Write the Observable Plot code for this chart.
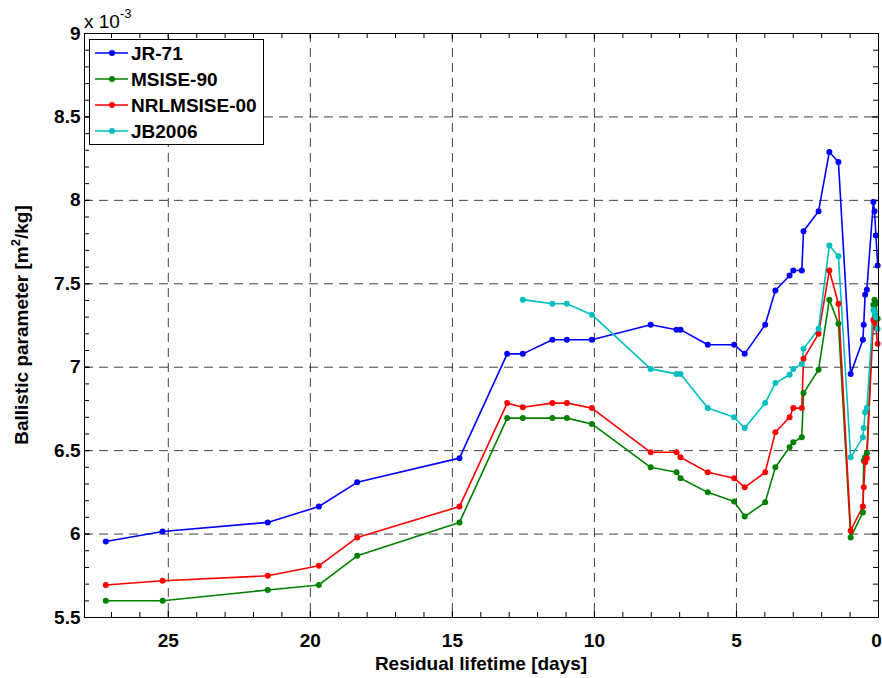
<!DOCTYPE html>
<html><head><meta charset="utf-8">
<script src="https://cdn.jsdelivr.net/npm/d3@7"></script>
<script src="https://cdn.jsdelivr.net/npm/@observablehq/plot@0.6"></script>
<style>
body{margin:0;background:#fff}
#chart svg{font-family:"Liberation Sans",Arial,sans-serif}
</style>
</head><body><div id="chart"></div>
<script>
// Residual lifetime (days) shared by all series
const days = [27.2, 25.2, 21.5, 19.7, 18.35, 14.75, 13.07, 12.52, 11.48, 10.97, 10.09, 8.02, 7.11, 6.97, 6.01, 5.08, 4.71, 3.99, 3.63, 3.13, 3.0, 2.7, 2.64, 2.11, 1.73, 1.41, 0.98, 0.55, 0.52, 0.47, 0.41, 0.18, 0.14, 0.09, 0.03];
// Ballistic parameter (x 1e-3 m^2/kg)
const jr71 = [5.955, 6.015, 6.07, 6.165, 6.31, 6.455, 7.08, 7.08, 7.165, 7.165, 7.165, 7.255, 7.225, 7.225, 7.135, 7.135, 7.08, 7.255, 7.46, 7.55, 7.58, 7.58, 7.815, 7.935, 8.29, 8.23, 6.96, 7.165, 7.255, 7.435, 7.465, 7.99, 7.935, 7.79, 7.61];
const msise90 = [5.6, 5.6, 5.665, 5.695, 5.87, 6.07, 6.695, 6.695, 6.695, 6.695, 6.66, 6.4, 6.37, 6.335, 6.25, 6.195, 6.105, 6.19, 6.4, 6.52, 6.55, 6.58, 6.845, 6.985, 7.405, 7.26, 5.98, 6.13, 6.44, 6.46, 6.485, 7.375, 7.405, 7.38, 7.29];
const nrlmsise00 = [5.695, 5.72, 5.75, 5.81, 5.98, 6.165, 6.785, 6.76, 6.785, 6.785, 6.755, 6.49, 6.49, 6.46, 6.37, 6.335, 6.28, 6.37, 6.61, 6.7, 6.755, 6.755, 7.05, 7.2, 7.58, 7.38, 6.02, 6.165, 6.28, 6.43, 6.455, 7.285, 7.27, 7.235, 7.14];
// JB2006 starts at 12.52 days (index 7 of days)
const jb2006Start = 7;
const jb2006 = [7.405, 7.38, 7.38, 7.315, 6.99, 6.96, 6.96, 6.755, 6.7, 6.635, 6.785, 6.905, 6.955, 6.99, 7.02, 7.11, 7.23, 7.73, 7.665, 6.46, 6.58, 6.635, 6.73, 6.755, 7.345, 7.33, 7.3, 7.23];

const seriesNames = ["JR-71", "MSISE-90", "NRLMSISE-00", "JB2006"];
const seriesColors = ["#0000ff", "#008000", "#ff0000", "#00bfbf"];
const xMajor = [25, 20, 15, 10, 5, 0];
const xGrid = [25, 20, 15, 10, 5];
const xMinor = d3.range(1, 28);
const yMajor = [5.5, 6, 6.5, 7, 7.5, 8, 8.5, 9];
const yGrid = [6, 6.5, 7, 7.5, 8, 8.5];
const yMinor = d3.range(56, 90).map(v => v / 10);
const xLabel = "Residual lifetime [days]";
const yLabelPre = "Ballistic parameter [m", yLabelSup = "2", yLabelPost = "/kg]";

const rows = [];
days.forEach((d, i) => {
  rows.push({series: "JR-71", day: d, value: jr71[i]});
  rows.push({series: "MSISE-90", day: d, value: msise90[i]});
  rows.push({series: "NRLMSISE-00", day: d, value: nrlmsise00[i]});
});
jb2006.forEach((v, i) => rows.push({series: "JB2006", day: days[jb2006Start + i], value: v}));

const W = 882, H = 678, mL = 84, mR = 4, mT = 33, mB = 61;
const iW = W - mL - mR, iH = H - mT - mB;
const TK = 6, TKm = 5;
const txt = {fontSize: 19, fontWeight: "bold", fill: "#000"};

const plot = Plot.plot({
  width: W, height: H,
  marginLeft: mL, marginRight: mR, marginTop: mT, marginBottom: mB,
  x: {domain: [27.95, 0]},
  y: {domain: [5.5, 9]},
  color: {domain: seriesNames, range: seriesColors},
  style: {fontFamily: "Liberation Sans, Arial, sans-serif", background: "#fff"},
  marks: [
    Plot.ruleX(xGrid, {stroke: "#000", strokeOpacity: 0.75, strokeDasharray: "9,6"}),
    Plot.ruleY(yGrid, {stroke: "#000", strokeOpacity: 0.75, strokeDasharray: "9,6"}),
    // inward ticks (bottom/top, left/right)
    Plot.ruleX(xMajor, {insetTop: iH - TK}),
    Plot.ruleX(xMajor, {insetBottom: iH - TK}),
    Plot.ruleX(xMinor, {insetTop: iH - TKm}),
    Plot.ruleX(xMinor, {insetBottom: iH - TKm}),
    Plot.ruleY(yMajor, {insetRight: iW - TK}),
    Plot.ruleY(yMajor, {insetLeft: iW - TK}),
    Plot.ruleY(yMinor, {insetRight: iW - TKm}),
    Plot.ruleY(yMinor, {insetLeft: iW - TKm}),
    Plot.line(rows, {x: "day", y: "value", z: "series", stroke: "series", strokeWidth: 1.6}),
    Plot.dot(rows, {x: "day", y: "value", fill: "series", r: 3}),
    Plot.frame({stroke: "#000"}),
    Plot.axisX(xMajor.filter(d => d !== 0), {tickSize: 0, tickPadding: 16, tickFormat: d => String(d), ...txt, label: null}),
    Plot.axisX([0], {tickSize: 0, tickPadding: 16, dx: -2, tickFormat: d => String(d), ...txt, label: null}),
    Plot.axisY(yMajor, {tickSize: 0, tickPadding: 4, tickFormat: d => String(d), ...txt, label: null})
  ]
});
document.getElementById("chart").appendChild(plot);

const svg = d3.select(plot);
// exponent annotation
const ex = svg.append("text").attr("x", mL).attr("y", 28).attr("font-size", 19)
  .attr("text-anchor", "start").attr("fill", "#000");
ex.append("tspan").text("x 10");
ex.append("tspan").attr("font-size", 13).attr("dy", -10).text("-3");
// x label
svg.append("text").attr("x", mL + iW / 2).attr("y", 670).attr("text-anchor", "middle")
  .attr("font-size", 19).attr("font-weight", "bold").text(xLabel);
// y label
const yl = svg.append("text").attr("transform", `translate(28,${mT + iH / 2}) rotate(-90)`)
  .attr("text-anchor", "middle").attr("font-size", 19).attr("font-weight", "bold");
yl.append("tspan").text(yLabelPre);
yl.append("tspan").attr("font-size", 13).attr("dy", -8).text(yLabelSup);
yl.append("tspan").attr("dy", 8).text(yLabelPost);
// legend
const lg = svg.append("g").attr("text-anchor", "start");
lg.append("rect").attr("x", 89.5).attr("y", 39.5).attr("width", 174).attr("height", 105)
  .attr("fill", "#fff").attr("stroke", "#000");
seriesNames.forEach((name, i) => {
  const yy = 53 + i * 26;
  lg.append("line").attr("x1", 95).attr("x2", 128).attr("y1", yy).attr("y2", yy)
    .attr("stroke", seriesColors[i]).attr("stroke-width", 1.6);
  lg.append("circle").attr("cx", 112).attr("cy", yy).attr("r", 3).attr("fill", seriesColors[i]);
  lg.append("text").attr("x", 131).attr("y", yy + 7).attr("font-size", 19)
    .attr("text-anchor", "start").attr("font-weight", "bold").text(name);
});
</script>
</body></html>
